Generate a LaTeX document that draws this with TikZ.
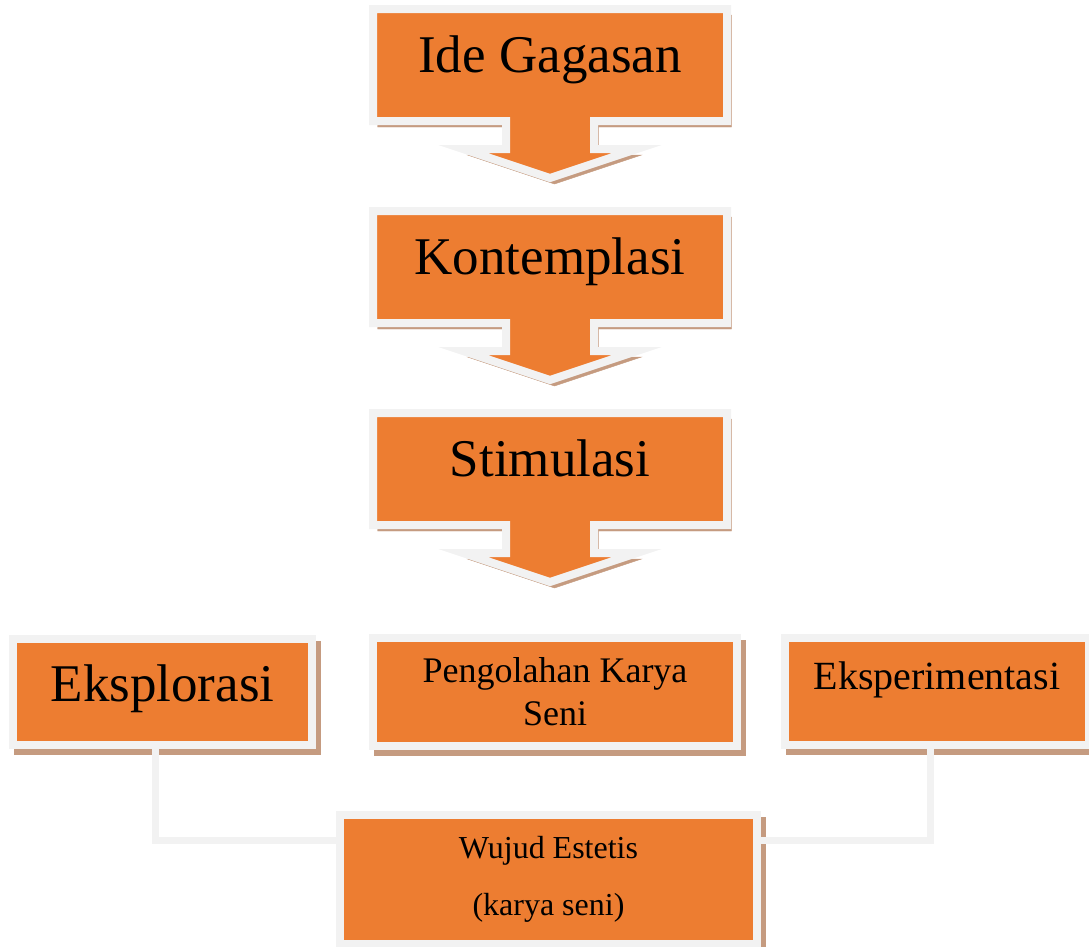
\documentclass[tikz,border=0pt]{standalone}
\usepackage{fontspec}
\setmainfont{Liberation Serif}
\definecolor{boxorange}{HTML}{ED7D31}
\definecolor{boxrim}{HTML}{F2F2F2}
\definecolor{boxshadow}{RGB}{197,155,128}
\tikzset{
  castshadow/.style={preaction={fill=boxshadow, draw=boxshadow,
      transform canvas={xshift=4.5pt, yshift=-6pt}}},
  panel/.style={draw=boxrim, fill=boxorange, line width=8pt, castshadow},
  stepbox/.style={panel, inner sep=0pt, align=center},
  headtext/.style={font=\fontsize{53}{60}\selectfont, anchor=base},
  link/.style={draw=boxrim, line width=7pt}
}
\begin{document}
\begin{tikzpicture}[x=1pt, y=-1pt]
  \useasboundingbox (0,0) rectangle (1089,946);
  \foreach \dy/\nm/\txt in {0/ide/Ide Gagasan, 202/kon/Kontemplasi, 404/sti/Stimulasi}{
    \begin{scope}[shift={(0,\dy)}]
      \draw[panel] (373,9) -- (727,9) -- (727,121) -- (594,121) -- (594,149)
        -- (637,149) -- (550,178) -- (463,149) -- (506,149) -- (506,121)
        -- (373,121) -- cycle;
      \node[headtext] (\nm) at (550,72) {\txt};
    \end{scope}
  }
  \node[stepbox, minimum width=299pt, minimum height=106pt,
    font=\fontsize{53}{60}\selectfont, text height=36pt, text depth=18pt]
    (eksp) at (162.5,692) {Eksplorasi};
  \node[stepbox, minimum width=364pt, minimum height=108pt,
    font=\fontsize{36}{43}\selectfont]
    (olah) at (555,692) {Pengolahan Karya\\Seni};
  \node[stepbox, minimum width=304pt, minimum height=107pt,
    font=\fontsize{40}{46}\selectfont, text height=20pt, text depth=25pt]
    (eksper) at (937,691.5) {Eksperimentasi};
  \node[stepbox, minimum width=417pt, minimum height=129pt,
    font=\fontsize{32}{57}\selectfont]
    (wujud) at (548.5,879.5) {Wujud Estetis\\(karya seni)};
  \draw[link] ([xshift=-7.5pt]eksp.south) |- ([yshift=-29pt]wujud.north west);
  \draw[link] ([xshift=-7pt]eksper.south) |- ([yshift=-29pt]wujud.north east);
\end{tikzpicture}
\end{document}
